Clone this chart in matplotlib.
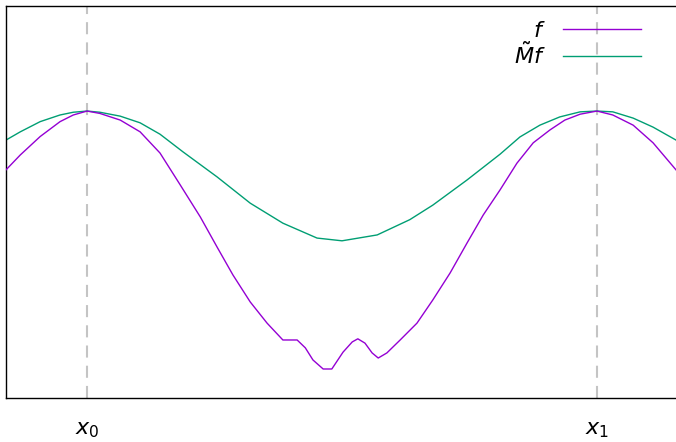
import matplotlib
matplotlib.use("Agg")
import matplotlib.pyplot as plt

# x measured so that x0 = 0 and x1 = 1; y normalised to the plot height
f_x = [-0.159, -0.131, -0.092, -0.053, -0.027, 0.0, 0.025, 0.065, 0.104, 0.143,
       0.182, 0.222, 0.255, 0.286, 0.320, 0.353, 0.384, 0.412, 0.428, 0.443,
       0.463, 0.480, 0.502, 0.520, 0.531, 0.545, 0.559, 0.571, 0.588, 0.614,
       0.647, 0.678, 0.712, 0.745, 0.777, 0.810, 0.843, 0.875, 0.908, 0.937,
       0.967, 1.0, 1.031, 1.071, 1.110, 1.155]
f_y = [0.582, 0.620, 0.667, 0.705, 0.722, 0.732, 0.726, 0.709, 0.679, 0.625,
       0.545, 0.462, 0.385, 0.314, 0.245, 0.191, 0.148, 0.148, 0.128, 0.097,
       0.074, 0.074, 0.117, 0.143, 0.151, 0.140, 0.115, 0.102, 0.115, 0.148,
       0.191, 0.250, 0.319, 0.395, 0.467, 0.531, 0.599, 0.651, 0.684, 0.709,
       0.724, 0.732, 0.722, 0.696, 0.651, 0.582]

mf_x = [-0.159, -0.131, -0.092, -0.053, -0.027, 0.0, 0.025, 0.065, 0.104, 0.143,
        0.188, 0.255, 0.320, 0.384, 0.451, 0.500, 0.569, 0.633, 0.678, 0.745,
        0.810, 0.849, 0.888, 0.927, 0.967, 1.0, 1.031, 1.071, 1.110, 1.155]
mf_y = [0.658, 0.679, 0.705, 0.722, 0.729, 0.732, 0.729, 0.719, 0.702, 0.673,
        0.628, 0.564, 0.497, 0.446, 0.408, 0.401, 0.416, 0.455, 0.492, 0.556,
        0.622, 0.666, 0.696, 0.717, 0.730, 0.732, 0.730, 0.714, 0.691, 0.658]

tick_pos = [0.0, 1.0]
tick_labels = [r"$x_0$", r"$x_1$"]

fig = plt.figure(figsize=(6.76, 4.42), dpi=100)
ax = fig.add_axes([6 / 676, 44 / 442, 670 / 676, 392 / 442])

for xp in tick_pos:
    ax.axvline(xp, color="#c4c4c4", linewidth=1.5, dashes=(5.8, 3.9), zorder=1)

ax.plot(f_x, f_y, color="#9400d3", linewidth=1.0, label=r"$f$", zorder=3)
ax.plot(mf_x, mf_y, color="#009e73", linewidth=1.0, label=r"$\tilde{M}f$", zorder=2)

ax.set_xlim(-0.159, 1.155)
ax.set_ylim(0, 1)
ax.set_yticks([])
ax.set_xticks(tick_pos)
ax.set_xticklabels(tick_labels, fontsize=16)
ax.tick_params(axis="x", direction="in", length=5, width=1.2, color="#c4c4c4",
               pad=16, top=True)
for side in ["left", "top", "bottom"]:
    ax.spines[side].set_linewidth(1.0)
ax.spines["right"].set_visible(False)

ax.legend(loc="upper right", bbox_to_anchor=(0.948, 0.962), frameon=False,
          markerfirst=False, fontsize=16, handlelength=3.5, handletextpad=0.8,
          borderpad=0, borderaxespad=0, labelspacing=0.05)

fig.savefig("out.png", dpi=100)
